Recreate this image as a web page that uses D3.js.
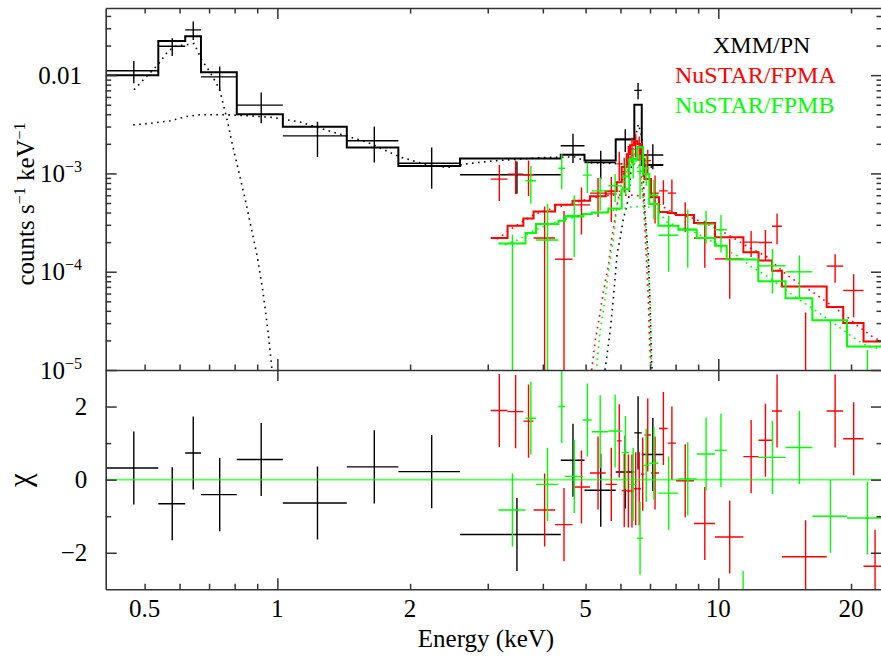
<!DOCTYPE html>
<html>
<head>
<meta charset="utf-8">
<script src="https://cdn.jsdelivr.net/npm/d3@7"></script>
<style>
  html, body { margin: 0; padding: 0; background: #fff; }
  svg { display: block; }
  text { font-family: "Liberation Serif", "Times New Roman", serif; fill: #000; }
</style>
</head>
<body>
<svg id="chart" width="881" height="658"></svg>
<script>
// ---- XMM/PN : bins (keV), model, data, error, residual ----
const xmmLo = [0.408, 0.537, 0.618, 0.671, 0.809, 1.029, 1.437, 1.881, 2.596, 4.392, 4.972, 5.852, 6.450, 6.705];
const xmmHi = [0.537, 0.618, 0.671, 0.809, 1.029, 1.437, 1.881, 2.596, 4.392, 4.972, 5.852, 6.450, 6.705, 7.504];
const xmmModel = [0.0100, 0.0223, 0.0248, 0.0107, 0.00401, 0.00298, 0.00184, 0.00119, 0.00142, 0.00155, 0.00135, 0.00222, 0.00499, 0.00122];
const xmmData = [0.0111, 0.0197, 0.0289, 0.0096, 0.00495, 0.00241, 0.00215, 0.00127, 0.00097, 0.00191, 0.00129, 0.00223, 0.0070, 0.00154];
const xmmErr = [0.00284, 0.00406, 0.00616, 0.00266, 0.00171, 0.00094, 0.00086, 0.00057, 0.00035, 0.00063, 0.00041, 0.00058, 0.0013, 0.00044];
const xmmChi = [0.32, -0.66, 0.73, -0.41, 0.55, -0.64, 0.35, 0.22, -1.50, 0.53, -0.29, 0.21, 1.28, 0.69];

// ---- NuSTAR/FPMA ----
const fpmaLo = [3.047, 3.327, 3.613, 3.811, 4.264, 4.671, 5.118, 5.555, 5.884, 6.039, 6.199, 6.305, 6.437, 6.556, 6.677, 6.800, 7.036, 7.337, 7.678, 8.018, 8.809, 9.829, 11.40, 12.34, 13.24, 13.94, 17.61, 19.20, 21.35];
const fpmaHi = [3.327, 3.613, 3.811, 4.264, 4.671, 5.118, 5.555, 5.884, 6.039, 6.199, 6.305, 6.437, 6.556, 6.677, 6.800, 7.036, 7.337, 7.678, 8.018, 8.809, 9.829, 11.40, 12.34, 13.24, 13.94, 17.61, 19.20, 21.35, 24.0];
const fpmaModel = [2.20e-4, 2.93e-4, 3.48e-4, 4.11e-4, 4.79e-4, 5.26e-4, 5.87e-4, 6.59e-4, 8.13e-4, 1.16e-3, 1.57e-3, 1.94e-3, 2.13e-3, 1.99e-3, 1.40e-3, 8.75e-4, 5.73e-4, 4.04e-4, 3.95e-4, 3.77e-4, 3.13e-4, 2.24e-4, 1.58e-4, 1.30e-4, 1.02e-4, 7.09e-5, 4.37e-5, 3.01e-5, 1.95e-5];
const fpmaData = [8.75e-4, 9.84e-4, 9.7e-4, 2.2e-4, 1.34e-4, 4.79e-4, 6.3e-4, 6.2e-4, 1.25e-3, 1.04e-3, 1.42e-3, 1.78e-3, 2.0e-3, 1.86e-3, 1.47e-3, 1.35e-3, 6.3e-4, 6.65e-4, 6.3e-4, 3.8e-4, 2.2e-4, 1.35e-4, 2.0e-4, 1.98e-4, 2.9e-4, 9.5e-6, 1.14e-4, 6.44e-5, 1e-6];
const fpmaErr = [3.5e-4, 3.7e-4, 3.8e-4, 2.4e-4, 2.8e-4, 2.4e-4, 2.7e-4, 3.0e-4, 4.1e-4, 4.0e-4, 4.8e-4, 5.2e-4, 5.4e-4, 5.2e-4, 4.6e-4, 3.9e-4, 3.2e-4, 1.86e-4, 2.35e-4, 1.28e-4, 1.1e-4, 8.2e-5, 5.9e-5, 6.7e-5, 1.0e-4, 2.9e-5, 3.67e-5, 3.0e-5, 7.8e-6];
const fpmaChi = [1.89, 1.86, 1.60, -0.83, -1.23, -0.20, 0.18, -0.13, 1.06, -0.30, -0.31, -0.31, -0.25, -0.25, 0.15, 1.22, 0.18, 1.40, 1.00, -0.03, -1.20, -1.57, 0.63, 1.08, 1.88, -2.11, 1.88, 1.12, -2.37];

// ---- NuSTAR/FPMB ----
const fpmbLo = [3.170, 3.655, 3.860, 4.338, 4.492, 4.934, 5.163, 5.631, 6.039, 6.282, 6.541, 6.750, 6.975, 7.311, 8.118, 8.933, 9.829, 10.45, 12.32, 14.21, 16.34, 19.58];
const fpmbHi = [3.655, 3.860, 4.338, 4.492, 4.934, 5.163, 5.631, 6.039, 6.282, 6.541, 6.750, 6.975, 7.311, 8.118, 8.933, 9.829, 10.45, 12.32, 14.21, 16.34, 19.58, 24.0];
const fpmbModel = [1.94e-4, 2.48e-4, 3.05e-4, 3.30e-4, 3.65e-4, 3.86e-4, 4.01e-4, 4.40e-4, 6.92e-4, 1.40e-3, 1.85e-3, 9.84e-4, 4.88e-4, 2.93e-4, 2.67e-4, 2.20e-4, 1.84e-4, 1.33e-4, 8.02e-5, 5.37e-5, 3.20e-5, 1.73e-5];
const fpmbData = [-1.2e-5, 8.41e-4, 2.1e-4, 1.13e-3, 3.71e-4, 9.61e-4, 6.65e-4, 7.48e-4, 9.3e-4, 1.34e-3, 1.05e-3, 1.13e-3, 6.0e-4, 2.35e-4, 2.7e-4, 3.05e-4, 2.67e-4, -4.2e-5, 1.148e-4, 9.97e-5, 7e-6, -1e-5];
const fpmbErr = [2.5e-4, 3.5e-4, 2.8e-4, 4.4e-4, 2.3e-4, 3.3e-4, 2.45e-4, 2.36e-4, 3.2e-4, 4.5e-4, 5e-4, 3.8e-4, 2.6e-4, 1.35e-4, 1.6e-4, 1.12e-4, 1.1e-4, 5e-5, 5.5e-5, 4.7e-5, 2.5e-5, 2.6e-5];
const fpmbChi = [-0.83, 1.68, -0.13, 2.00, 0.09, 1.63, 1.31, 1.33, 0.74, -0.13, -1.60, 0.39, 0.45, -0.37, 0.02, 0.70, 0.80, -3.5, 0.61, 0.88, -1.00, -1.05];

// ---- model components (dotted) ----
const xmmSoftE = [0.473, 0.504, 0.537, 0.566, 0.591, 0.621, 0.647, 0.660, 0.674, 0.692, 0.710, 0.739, 0.757, 0.773, 0.788, 0.845, 0.900, 0.928, 0.953, 0.973];
const xmmSoftV = [0.0071, 0.0096, 0.0129, 0.0177, 0.0199, 0.0203, 0.0210, 0.0174, 0.0142, 0.0120, 0.0100, 0.0072, 0.0047, 0.0032, 0.0021, 5.5e-4, 1.44e-4, 6.2e-5, 2.4e-5, 9.8e-6];
const xmmContE = [0.471, 0.514, 0.571, 0.624, 0.668, 0.769, 0.867, 0.978, 1.126, 1.338, 1.598, 1.898, 2.186, 2.426, 2.706, 3.084, 3.55, 4.153, 4.732, 5.118, 5.623, 6.305, 7.072];
const xmmContV = [0.00312, 0.00323, 0.00343, 0.0038, 0.00395, 0.00395, 0.00385, 0.00371, 0.00333, 0.00263, 0.00208, 0.00147, 0.00122, 0.00115, 0.00126, 0.00134, 0.0014, 0.00146, 0.00147, 0.00129, 0.00127, 0.00124, 0.00116];
const xmmLineE = [5.535, 5.681, 5.780, 5.893, 5.985, 6.089, 6.199, 6.274, 6.339, 6.473, 6.586, 6.705, 6.761, 6.821, 6.881, 6.939, 6.999, 7.063, 7.09];
const xmmLineV = [1.0e-5, 2.43e-5, 5.26e-5, 1.51e-4, 2.15e-4, 3.43e-4, 4.68e-4, 5.92e-4, 1.106e-3, 2.23e-3, 3.17e-3, 2.40e-3, 8.75e-4, 3.86e-4, 2.30e-4, 1.44e-4, 5.26e-5, 1.15e-5, 9.1e-6];
const fpmaContE = [3.149, 3.336, 3.550, 3.840, 4.153, 4.492, 4.858, 5.308, 5.741, 6.305, 6.821, 7.072, 7.453, 7.977, 8.626, 9.330, 10.09, 11.02, 11.80, 12.83, 14.31, 15.48, 16.74, 18.01, 19.38, 20.74, 22.43, 23.38];
const fpmaContV = [2.15e-4, 2.59e-4, 3.12e-4, 3.86e-4, 4.33e-4, 4.75e-4, 5.23e-4, 5.74e-4, 6.02e-4, 6.02e-4, 5.87e-4, 5.48e-4, 4.65e-4, 3.86e-4, 3.59e-4, 3.12e-4, 2.65e-4, 2.10e-4, 1.74e-4, 1.44e-4, 9.23e-5, 7.31e-5, 5.78e-5, 4.57e-5, 3.62e-5, 2.80e-5, 2.16e-5, 1.97e-5];
const fpmaLineE = [5.163, 5.253, 5.373, 5.486, 5.631, 5.732, 5.861, 5.985, 6.143, 6.305, 6.473, 6.643, 6.761, 6.821, 6.881, 6.939, 6.974, 7.026];
const fpmaLineV = [1e-5, 1.92e-5, 3.45e-5, 6.2e-5, 1.14e-4, 2.15e-4, 4.04e-4, 6.92e-4, 1.106e-3, 1.465e-3, 1.571e-3, 1.245e-3, 5.48e-4, 2.53e-4, 1.14e-4, 5.26e-5, 2.43e-5, 1.1e-5];
const fpmbContE = [3.284, 3.550, 3.741, 4.089, 4.422, 4.732, 5.118, 5.392, 5.833, 6.305, 6.821, 7.187, 7.453, 7.650, 8.060, 8.718, 9.089, 9.829, 10.63, 11.08, 11.92, 12.90, 14.31, 15.56, 16.83, 18.78, 20.20, 21.74, 23.38];
const fpmbContV = [1.865e-4, 2.15e-4, 2.53e-4, 2.98e-4, 3.35e-4, 3.59e-4, 3.86e-4, 3.95e-4, 4.23e-4, 4.54e-4, 4.65e-4, 4.33e-4, 3.68e-4, 3.20e-4, 2.91e-4, 2.59e-4, 2.36e-4, 1.954e-4, 1.583e-4, 1.44e-4, 1.113e-4, 9.02e-5, 6.35e-5, 4.91e-5, 3.88e-5, 2.73e-5, 2.16e-5, 1.75e-5, 1.63e-5];
const fpmbLineE = [5.30, 5.391, 5.535, 5.658, 5.780, 5.884, 6.039, 6.209, 6.373, 6.54, 6.677, 6.784, 6.874, 6.939, 6.999, 7.037, 7.05];
const fpmbLineV = [1.1e-5, 2.43e-5, 5.26e-5, 1.14e-4, 2.15e-4, 4.65e-4, 6.92e-4, 1.055e-3, 1.303e-3, 1.245e-3, 8.75e-4, 4.88e-4, 2.15e-4, 1.06e-4, 5.26e-5, 1.52e-5, 9.7e-6];

// ---- ticks ----
const xMajor = [1, 10];
const xMinor = [0.5, 0.6, 0.7, 0.8, 0.9, 2, 3, 4, 5, 6, 7, 8, 9, 20];
const xLabels = [0.5, 1, 2, 5, 10, 20];
const yMajor = [1e-5, 1e-4, 1e-3, 1e-2];
const yMinor = [2e-5, 3e-5, 4e-5, 5e-5, 6e-5, 7e-5, 8e-5, 9e-5, 2e-4, 3e-4, 4e-4, 5e-4, 6e-4, 7e-4, 8e-4, 9e-4,
                2e-3, 3e-3, 4e-3, 5e-3, 6e-3, 7e-3, 8e-3, 9e-3, 2e-2, 3e-2, 4e-2];
const yLabels = [[1e-2, '0.01', ''], [1e-3, '10', '\u22123'], [1e-4, '10', '\u22124'], [1e-5, '10', '\u22125']];
const chiMajor = [-2, 0, 2];
const chiMinor = [-1, 1];
const chiLabels = [[2, '2'], [0, '0'], [-2, '\u22122']];

const left = 105.7, right = 882, topY = 8, midY = 370, botY = 589.3;

const x = d3.scaleLog().domain([0.408, 23.51]).range([left, right]);
const y = d3.scaleLog().domain([1e-5, 0.0482]).range([midY, topY]);
const yr = d3.scaleLinear().domain([-3, 3]).range([botY, midY]);

const svg = d3.select('#chart');
const defs = svg.append('defs');
defs.append('clipPath').attr('id', 'clipTop').append('rect')
  .attr('x', left).attr('y', topY).attr('width', right - left).attr('height', midY - topY);
defs.append('clipPath').attr('id', 'clipBot').append('rect')
  .attr('x', left).attr('y', midY).attr('width', right - left).attr('height', botY - midY);

const topG = svg.append('g').attr('clip-path', 'url(#clipTop)');
const botG = svg.append('g').attr('clip-path', 'url(#clipBot)');

function bins(lo, hi, model, data, err, chi) {
  return lo.map((l, i) => ({ lo: l, hi: hi[i], m: model[i], d: data[i], s: err[i], c: chi[i] }));
}
const groups = [
  { color: '#000000', b: bins(xmmLo, xmmHi, xmmModel, xmmData, xmmErr, xmmChi),
    comps: [[xmmSoftE, xmmSoftV], [xmmContE, xmmContV], [xmmLineE, xmmLineV]] },
  { color: '#ff0000', b: bins(fpmaLo, fpmaHi, fpmaModel, fpmaData, fpmaErr, fpmaChi),
    comps: [[fpmaContE, fpmaContV], [fpmaLineE, fpmaLineV]] },
  { color: '#00ff00', b: bins(fpmbLo, fpmbHi, fpmbModel, fpmbData, fpmbErr, fpmbChi),
    comps: [[fpmbContE, fpmbContV], [fpmbLineE, fpmbLineV]] }
];

const line = d3.line().x(p => x(p[0])).y(p => y(p[1]));
const safe = v => (v > 1e-8 ? v : 1e-8);

groups.forEach(g => {
  // data crosses
  g.b.forEach(b => {
    const mid = (b.lo + b.hi) / 2;
    const hiV = b.d + b.s;
    if (hiV > 0) {
      topG.append('line').attr('x1', x(mid)).attr('x2', x(mid))
        .attr('y1', y(safe(b.d - b.s))).attr('y2', y(hiV))
        .attr('stroke', g.color).attr('stroke-width', 1.4);
    }
    if (b.d > 0) {
      topG.append('line').attr('x1', x(b.lo)).attr('x2', x(b.hi))
        .attr('y1', y(safe(b.d))).attr('y2', y(safe(b.d)))
        .attr('stroke', g.color).attr('stroke-width', 1.4);
    }
    // residuals
    botG.append('line').attr('x1', x(mid)).attr('x2', x(mid))
      .attr('y1', yr(b.c - 1)).attr('y2', yr(b.c + 1))
      .attr('stroke', g.color).attr('stroke-width', 1.4);
    botG.append('line').attr('x1', x(b.lo)).attr('x2', x(b.hi))
      .attr('y1', yr(b.c)).attr('y2', yr(b.c))
      .attr('stroke', g.color).attr('stroke-width', 1.4);
  });
  // dotted components
  g.comps.forEach(([es, vs]) => {
    topG.append('path').datum(es.map((e, i) => [e, vs[i]]))
      .attr('d', line).attr('fill', 'none').attr('stroke', g.color)
      .attr('stroke-width', 1.6).attr('stroke-dasharray', '1.6,4.4');
  });
  // model histogram
  const steps = g.b.flatMap(b => [[b.lo, b.m], [b.hi, b.m]]);
  topG.append('path').datum(steps).attr('d', line)
    .attr('fill', 'none').attr('stroke', g.color).attr('stroke-width', 2);
});

// zero line of the residual panel
botG.append('line').attr('x1', left).attr('x2', right)
  .attr('y1', yr(0)).attr('y2', yr(0))
  .attr('stroke', '#00ff00').attr('stroke-width', 1.8).attr('stroke-opacity', 0.65);

// ---- axes (frame + ticks) ----
const axG = svg.append('g').attr('color', '#333333');
function tickAxis(axis, tx, ty, values, size, keepDomain) {
  const g = axG.append('g').attr('transform', `translate(${tx},${ty})`)
    .call(axis.tickValues(values).tickSize(-size).tickSizeOuter(0).tickFormat(''));
  g.selectAll('line').attr('stroke-width', 1.5);
  g.select('.domain').attr('stroke-width', 1.6);
  if (!keepDomain) g.select('.domain').remove();
}
// top panel
tickAxis(d3.axisLeft(y), left, 0, yMajor, 11, true);
tickAxis(d3.axisLeft(y), left, 0, yMinor, 5.5, false);
tickAxis(d3.axisRight(y), right, 0, yMajor, 11, true);
tickAxis(d3.axisRight(y), right, 0, yMinor, 5.5, false);
tickAxis(d3.axisTop(x), 0, topY, xMajor, 11, true);
tickAxis(d3.axisTop(x), 0, topY, xMinor, 5.5, false);
tickAxis(d3.axisBottom(x), 0, midY, xMajor, 11, true);
tickAxis(d3.axisBottom(x), 0, midY, xMinor, 5.5, false);
// residual panel
tickAxis(d3.axisTop(x), 0, midY, xMajor, 11, false);
tickAxis(d3.axisBottom(x), 0, botY, xMajor, 11, true);
tickAxis(d3.axisBottom(x), 0, botY, xMinor, 5.5, false);
tickAxis(d3.axisLeft(yr), left, 0, chiMajor, 11, true);
tickAxis(d3.axisLeft(yr), left, 0, chiMinor, 5.5, false);
tickAxis(d3.axisRight(yr), right, 0, chiMajor, 11, true);
tickAxis(d3.axisRight(yr), right, 0, chiMinor, 5.5, false);

// ---- labels ----
const fs = 25;
yLabels.forEach(([v, base, sup]) => {
  const t = svg.append('text').attr('x', 82).attr('y', y(v) + 8.5)
    .attr('text-anchor', 'end').attr('font-size', fs).text(base);
  if (sup) t.append('tspan').attr('dy', -10).attr('font-size', 16).text(sup);
});
chiLabels.forEach(([v, s]) => {
  svg.append('text').attr('x', 87.3).attr('y', yr(v) + 8)
    .attr('text-anchor', 'end').attr('font-size', fs).text(s);
});
xLabels.forEach(v => {
  svg.append('text').attr('x', x(v)).attr('y', 617)
    .attr('text-anchor', 'middle').attr('font-size', fs).text(v);
});
svg.append('text').attr('x', 486).attr('y', 647)
  .attr('text-anchor', 'middle').attr('font-size', fs).text('Energy (keV)');

const yl = svg.append('text').attr('transform', 'translate(33.5,204) rotate(-90)')
  .attr('text-anchor', 'middle').attr('font-size', fs);
yl.append('tspan').text('counts s');
yl.append('tspan').attr('dy', -9).attr('font-size', 16).text('\u22121');
yl.append('tspan').attr('dy', 9).text(' keV');
yl.append('tspan').attr('dy', -9).attr('font-size', 16).text('\u22121');

svg.append('text').attr('transform', 'translate(30,480) rotate(-90)')
  .attr('text-anchor', 'middle').attr('font-size', 31).text('\u03c7');

// legend
const legend = [['XMM/PN', '#000000', 713, 53], ['NuSTAR/FPMA', '#ff0000', 675, 82.5], ['NuSTAR/FPMB', '#00ff00', 675, 112.5]];
legend.forEach(([t, c, lx, ly]) => {
  svg.append('text').attr('x', lx).attr('y', ly).attr('font-size', 24)
    .style('fill', c).text(t);
});
</script>
</body>
</html>
